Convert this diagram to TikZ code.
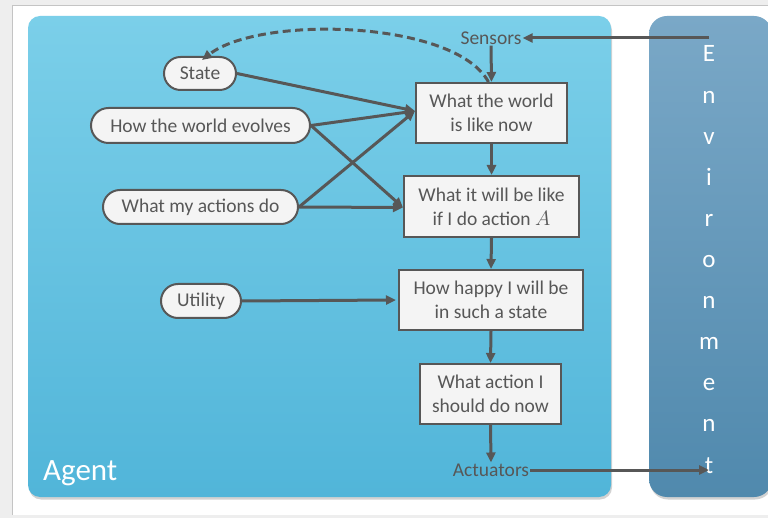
\documentclass[tikz,border=0pt]{standalone}
\usepackage{fontspec}
\setmainfont{Carlito}
\usetikzlibrary{arrows.meta,shapes.misc,shadows}

\definecolor{ink}{HTML}{575757}
\definecolor{boxfill}{HTML}{F4F4F4}
\definecolor{pagegray}{HTML}{EEEEEE}
\definecolor{pageedge}{HTML}{C4C4C4}
\definecolor{agenttop}{HTML}{7BCFE9}
\definecolor{agentbot}{HTML}{51B5D9}
\definecolor{envtop}{HTML}{7AA8C7}
\definecolor{envbot}{HTML}{5089AD}

\tikzset{
  panelshadow/.style={drop shadow={opacity=0.35, shadow xshift=1pt, shadow yshift=-2.5pt}},
  agentpanel/.style={panelshadow, rounded corners=12pt, top color=agenttop, bottom color=agentbot, draw=none},
  envpanel/.style={panelshadow, rounded corners=18pt, top color=envtop, bottom color=envbot, draw=none},
  stepbox/.style={draw=ink, line width=2pt, fill=boxfill, text=ink,
    font=\fontsize{19.5}{24}\selectfont, align=center, inner sep=0pt},
  pill/.style={stepbox, rounded rectangle},
  portlabel/.style={text=ink, font=\fontsize{19.5}{22}\selectfont, inner sep=1pt},
  envletter/.style={text=white, font=\fontsize{25}{28}\selectfont, anchor=base, inner sep=0pt},
  flow/.style={draw=ink, line width=3pt, -{Triangle[length=10pt,width=9pt]}},
  sensedash/.style={flow, dash pattern=on 8pt off 4.5pt},
}

\begin{document}
\begin{tikzpicture}[x=1pt,y=-1pt]
\useasboundingbox (0,0) rectangle (768,518);

% page background
\fill[pagegray] (0,0) rectangle (768,518);
\fill[white] (13,6) rectangle (768,515);
\draw[pageedge, line width=1pt] (12.5,515) -- (12.5,5.5) -- (768,5.5);

% panels
\path[agentpanel] (28,16) rectangle (611,497);
\path[envpanel] (649,16) rectangle (772,497);

\node[text=white, font=\fontsize{31}{34}\selectfont, anchor=base west, inner sep=0pt] (agent) at (43,480) {Agent};

% Environment, spelled downwards
\foreach \ch [count=\k from 0] in {E,n,v,i,r,o,n,m,e,n,t}
  \node[envletter] (env\k) at (709,{62+41.1*\k}) {\ch};

% sensors and actuators
\node[portlabel] (sensors) at (491,38) {Sensors};
\node[portlabel] (actuators) at (491,470) {Actuators};
\coordinate (envin) at (709,38);
\coordinate (envout) at (709,470);

% decision chain
\node[stepbox, minimum width=151pt, minimum height=60pt] (world) at (491.5,113) {What the world\\is like now};
\node[stepbox, minimum width=175pt, minimum height=61pt] (will) at (491.5,206.5) {What it will be like\\if I do action $A$};
\node[stepbox, minimum width=184pt, minimum height=60pt] (happy) at (491,300) {How happy I will be\\in such a state};
\node[stepbox, minimum width=141pt, minimum height=60pt] (act) at (490.5,394) {What action I\\should do now};

% knowledge
\node[pill, minimum width=72pt, minimum height=33pt] (state) at (200,73.5) {State};
\node[pill, minimum width=219pt, minimum height=35pt] (evolves) at (200.5,125.5) {How the world evolves};
\node[pill, minimum width=195pt, minimum height=34pt] (actions) at (200.5,207) {What my actions do};
\node[pill, minimum width=80pt, minimum height=34pt] (utility) at (201,301) {Utility};

% connectors
\draw[flow] (envin) -- (sensors.east);
\draw[flow] (sensors.south) -- (world.north);
\draw[flow] (world.south) -- (will.north);
\draw[flow] (will.south) -- (happy.north);
\draw[flow] (happy.south) -- (act.north);
\draw[flow] (act.south) -- (actuators.north);
\draw[flow] (actuators.east) -- (envout);

\draw[flow] (state.east) -- ([yshift=2pt]world.west);
\draw[flow] (evolves.east) -- ([yshift=2pt]world.west);
\draw[flow] (actions.east) -- ([yshift=2pt]world.west);
\draw[flow] (evolves.east) -- ([yshift=-1pt]will.west);
\draw[flow] (actions.east) -- ([yshift=-1pt]will.west);
\draw[flow] (utility.east) -- ([xshift=-2pt]happy.west);

\draw[sensedash] ([xshift=-3pt]world.north) .. controls (455,20) and (260,15) .. ([xshift=2pt,yshift=-4pt]state.north);
\end{tikzpicture}
\end{document}
